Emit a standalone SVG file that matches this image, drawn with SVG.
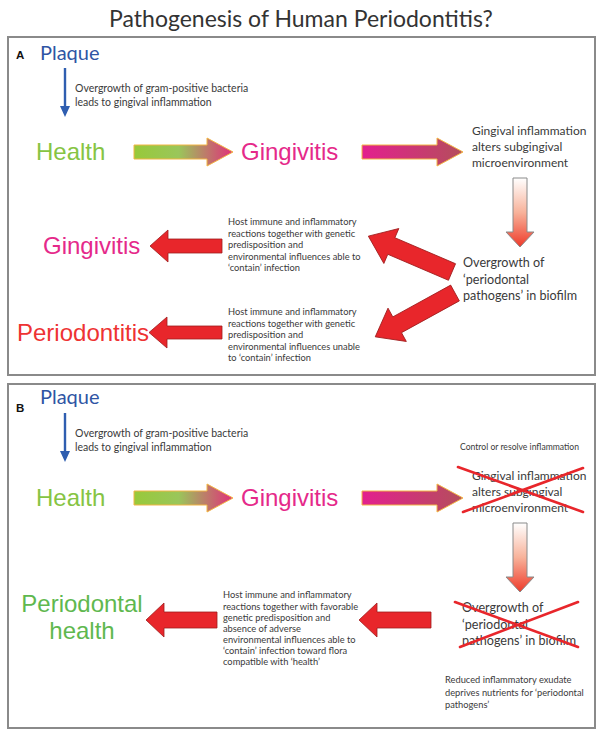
<svg xmlns="http://www.w3.org/2000/svg" width="603" height="738" viewBox="0 0 603 738">
<style>
.ttl{font-family:Lato,"Open Sans","Liberation Sans",sans-serif;font-size:23px;fill:#333}
.cal{font-family:Lato,"Open Sans","Liberation Sans",sans-serif;fill:#3a3a3a}
.s10{font-size:10.5px}
.s9{font-size:9.3px}
.s12{font-size:12px}
.s13{font-size:12.6px}
.big{font-family:"Liberation Sans",Arial,sans-serif;font-size:24px}
.plq{font-family:Lato,"Open Sans","Liberation Sans",sans-serif;font-size:20px;fill:#2f55a4}
.lbl{font-family:"Liberation Sans",Arial,sans-serif;font-size:11.5px;font-weight:bold;fill:#111}
.red{fill:#e8262b;stroke:#9e1c1c;stroke-width:0.8}
.x{stroke:#e8262b;stroke-width:2.6;stroke-linecap:round}
.box{fill:#fff;stroke:#8a8a8a;stroke-width:2}
.blue{fill:#2f5eb0}
</style>
<defs>
<linearGradient id="g1" x1="0" y1="0" x2="1" y2="0">
<stop offset="0" stop-color="#98c93a"/>
<stop offset="0.45" stop-color="#9ac65a"/>
<stop offset="1" stop-color="#e0307a"/>
</linearGradient>
<linearGradient id="g2" x1="0" y1="0" x2="1" y2="0">
<stop offset="0" stop-color="#e3208e"/>
<stop offset="1" stop-color="#b44e5c"/>
</linearGradient>
<linearGradient id="g3" x1="0" y1="0" x2="0" y2="1">
<stop offset="0" stop-color="#ffffff"/>
<stop offset="0.5" stop-color="#f8b29a"/>
<stop offset="1" stop-color="#ee3a2a"/>
</linearGradient>
</defs>
<rect width="603" height="738" fill="#fff"/>
<text class="ttl" x="301" y="27" text-anchor="middle">Pathogenesis of Human Periodontitis?</text>

<g id="panelA">
<rect class="box" x="8" y="37" width="587" height="338"/>
<text class="lbl" x="16" y="59">A</text>
</g>
<g id="panelB">
<rect class="box" x="8" y="384" width="587" height="344"/>
<text class="lbl" x="16" y="412">B</text>
</g>

<g id="connectors">
<path class="blue" d="M63.8,68 H66.2 V106 H70 L65,117 L60,106 H63.8 Z"/>
<path class="blue" d="M63.8,413 H66.2 V451 H70 L65,462 L60,451 H63.8 Z"/>
<polygon points="134,145 207,145 207,138 233,152 207,166 207,159 134,159" fill="url(#g1)" stroke="#f2b545" stroke-width="1"/>
<polygon points="362,145 437,145 437,138 463,152 437,166 437,159 362,159" fill="url(#g2)" stroke="#f2b545" stroke-width="1"/>
<polygon points="513,178 527,178 527,232 534,232 520,247 506,232 513,232" fill="url(#g3)" stroke="#8a8a8a" stroke-width="1"/>
<polygon class="red" points="222,239 168,239 168,230 150,246 168,262 168,253 222,253"/>
<polygon class="red" points="222,326 167,326 167,317 149,332.5 167,348 167,339 222,339"/>
<g transform="translate(452,272) rotate(203.2)"><polygon class="red" points="0,-9 66,-9 66,-19 91,0 66,19 66,9 0,9"/></g>
<g transform="translate(455,293) rotate(151.2)"><polygon class="red" points="0,-9 66,-9 66,-19 91,0 66,19 66,9 0,9"/></g>

<polygon points="134,491 207,491 207,484 233,498 207,512 207,505 134,505" fill="url(#g1)" stroke="#f2b545" stroke-width="1"/>
<polygon points="362,491 437,491 437,484 463,498 437,512 437,505 362,505" fill="url(#g2)" stroke="#f2b545" stroke-width="1"/>
<polygon points="513,523 527,523 527,577 534,577 520,592 506,577 513,577" fill="url(#g3)" stroke="#8a8a8a" stroke-width="1"/>
<polygon class="red" points="431,612 377,612 377,603 359,620 377,637 377,628 431,628"/>
<polygon class="red" points="217,612 164,612 164,603 146,620 164,637 164,628 217,628"/>
</g>

<g id="plaqueA"><text class="plq" x="40" y="60">Plaque</text></g>
<g id="noteA1"><text class="cal s10" x="75" y="92">Overgrowth of gram-positive bacteria</text><text class="cal s10" x="75" y="106">leads to gingival inflammation</text></g>
<g id="healthA"><text class="big" x="36" y="160" fill="#86c443">Health</text></g>
<g id="gingivitisA"><text class="big" x="241" y="160" fill="#e5298a">Gingivitis</text></g>
<g id="alterA"><text class="cal s12" x="472" y="135">Gingival inflammation</text><text class="cal s12" x="472" y="151">alters subgingival</text><text class="cal s12" x="472" y="167">microenvironment</text></g>
<g id="overgrowthA"><text class="cal s13" x="463" y="267">Overgrowth of</text><text class="cal s13" x="463" y="284"> ‘periodontal</text><text class="cal s13" x="463" y="300">pathogens’  in biofilm</text></g>
<g id="gingivitisA2"><text class="big" x="43" y="254" fill="#e5298a">Gingivitis</text></g>
<g id="periodontitisA"><text class="big" x="17" y="341" fill="#ee3333">Periodontitis</text></g>
<g id="hostA1"><text class="cal s9" x="228" y="225">Host immune and inflammatory</text><text class="cal s9" x="228" y="237">reactions together with genetic</text><text class="cal s9" x="228" y="248">predisposition and</text><text class="cal s9" x="228" y="260">environmental influences able to</text><text class="cal s9" x="228" y="271"> ‘contain’  infection</text></g>
<g id="hostA2"><text class="cal s9" x="228" y="315">Host immune and inflammatory</text><text class="cal s9" x="228" y="327">reactions together with genetic</text><text class="cal s9" x="228" y="338">predisposition and</text><text class="cal s9" x="228" y="350">environmental influences unable</text><text class="cal s9" x="228" y="361">to  ‘contain’  infection</text></g>

<g id="plaqueB"><text class="plq" x="40" y="404">Plaque</text></g>
<g id="noteB1"><text class="cal s10" x="75" y="437">Overgrowth of gram-positive bacteria</text><text class="cal s10" x="75" y="451">leads to gingival inflammation</text></g>
<g id="healthB"><text class="big" x="36" y="506" fill="#86c443">Health</text></g>
<g id="gingivitisB"><text class="big" x="241" y="506" fill="#e5298a">Gingivitis</text></g>
<g id="controlB"><text class="cal" x="460" y="450" font-size="8.6px">Control or resolve inflammation</text></g>
<g id="alterB"><text class="cal s12" x="472" y="480">Gingival inflammation</text><text class="cal s12" x="472" y="496">alters subgingival</text><text class="cal s12" x="472" y="512">microenvironment</text>
<line class="x" x1="458" y1="467" x2="583" y2="512"/><line class="x" x1="463" y1="512" x2="583" y2="468"/></g>
<g id="overgrowthB"><text class="cal s13" x="462" y="612">Overgrowth of</text><text class="cal s13" x="462" y="629"> ‘periodontal</text><text class="cal s13" x="462" y="645">pathogens’  in biofilm</text>
<line class="x" x1="455" y1="602" x2="578" y2="647"/><line class="x" x1="460" y1="647" x2="578" y2="602"/></g>
<g id="reducedB"><text class="cal s9" x="445" y="683">Reduced inflammatory exudate</text><text class="cal s9" x="445" y="696">deprives nutrients for  ‘periodontal</text><text class="cal s9" x="445" y="708">pathogens’</text></g>
<g id="hostB"><text class="cal s9" x="223" y="598">Host immune and inflammatory</text><text class="cal s9" x="223" y="610">reactions together with favorable</text><text class="cal s9" x="223" y="621">genetic predisposition and</text><text class="cal s9" x="223" y="632">absence of adverse</text><text class="cal s9" x="223" y="643">environmental influences able to</text><text class="cal s9" x="223" y="654"> ‘contain’  infection toward flora</text><text class="cal s9" x="223" y="665">compatible with  ‘health’</text></g>
<g id="periodontalHealthB"><text class="big" x="82" y="612" fill="#5fb84f" text-anchor="middle">Periodontal</text><text class="big" x="82" y="639" fill="#5fb84f" text-anchor="middle">health</text></g>
</svg>
